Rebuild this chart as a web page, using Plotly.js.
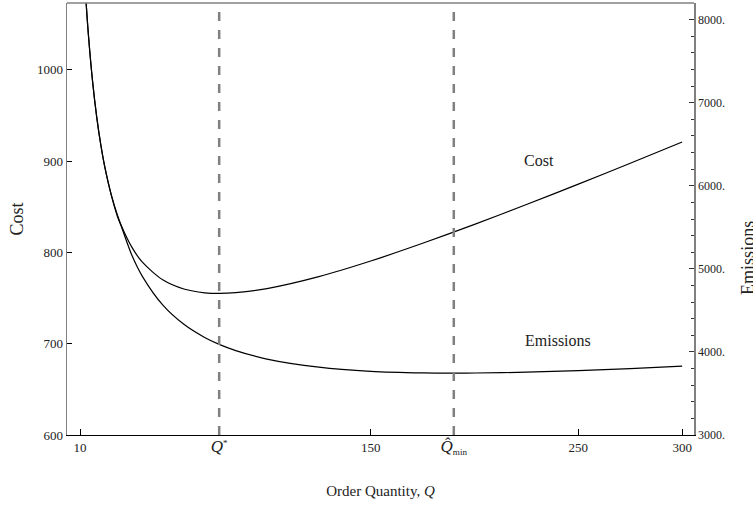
<!DOCTYPE html>
<html>
<head>
<meta charset="utf-8">
<script src="https://cdn.plot.ly/plotly-3.0.1.min.js"></script>
<style>html,body{margin:0;padding:0;background:#fff;}#chart{width:753px;height:508px;}</style>
</head>
<body>
<div id="chart"></div>
<script>
// Order quantity samples
const qCost = [12, 13, 14, 16, 18, 20, 22, 25, 28, 30, 35, 40, 50, 60, 70, 77, 85, 100, 125, 150, 175, 200, 225, 250, 275, 300];
const costValues = [1107, 1070, 1038.5, 987.6, 948.4, 917.5, 892.5, 863.2, 840.8, 828.6, 805.4, 789.2, 769.6, 759.8, 755.7, 755, 755.8, 760.3, 773.4, 790.5, 809.9, 830.6, 852.4, 874.7, 897.6, 920.8];
const qEmis = [12, 13, 14, 16, 18, 20, 22, 25, 28, 30, 35, 40, 50, 60, 70, 77, 85, 100, 125, 150, 175, 190, 200, 225, 250, 275, 300];
const emisValues = [8650, 8170, 7820, 7260, 6830, 6490, 6215, 5890, 5630, 5500, 5160, 4910, 4560, 4332, 4174, 4091, 4016, 3914, 3816, 3767, 3748, 3745, 3746, 3756, 3775, 3799, 3829];
// Marked quantities
const qStar = 77;
const qMin = 190;
// Tick labels
const xTickVals = [10, qStar, 150, qMin, 250, 300];
const xTickText = ['10', '<span style="font-size:17px"><i>Q</i></span><sup>*</sup>', '150', '<span style="font-size:17px"><i>Q̂</i></span><sub>min</sub>', '250', '300'];
const y1TickVals = [600, 700, 800, 900, 1000];
const y2TickVals = [3000, 4000, 5000, 6000, 7000, 8000];
const y2TickText = ['3000.', '4000.', '5000.', '6000.', '7000.', '8000.'];

const serif = '"Liberation Serif", "Times New Roman", serif';

const traces = [
  {x: qCost, y: costValues, type: 'scatter', mode: 'lines', line: {color: '#000', width: 1.2, shape: 'spline', smoothing: 0.8}, yaxis: 'y', hoverinfo: 'skip'},
  {x: qEmis, y: emisValues, type: 'scatter', mode: 'lines', line: {color: '#000', width: 1.2, shape: 'spline', smoothing: 0.8}, yaxis: 'y2', hoverinfo: 'skip'}
];

const layout = {
  width: 753, height: 508,
  margin: {l: 67, r: 59, t: 3, b: 73},
  paper_bgcolor: '#fff', plot_bgcolor: '#fff',
  showlegend: false,
  font: {family: serif, color: '#222', size: 12},
  xaxis: {
    range: [3.7, 305.7], tickvals: xTickVals, ticktext: xTickText,
    ticks: 'inside', ticklen: 6, tickcolor: '#000', tickwidth: 1,
    showline: true, linecolor: '#000', linewidth: 1.3,
    showgrid: false, zeroline: false,
    tickfont: {family: serif, size: 13, color: '#222'},
    title: {text: 'Order Quantity, <i>Q</i>', font: {family: serif, size: 15, color: '#222'}, standoff: 30}
  },
  yaxis: {
    range: [600, 1073], tickvals: y1TickVals,
    ticks: 'inside', ticklen: 5, tickcolor: '#000', tickwidth: 1,
    showline: true, linecolor: '#808080', linewidth: 1.5,
    showgrid: false, zeroline: false,
    tickfont: {family: serif, size: 13, color: '#222'},
    title: {text: 'Cost', font: {family: serif, size: 18, color: '#222'}, standoff: 8}
  },
  yaxis2: {
    overlaying: 'y', side: 'right',
    range: [3000, 8200], tickvals: y2TickVals, ticktext: y2TickText,
    ticks: 'inside', ticklen: 5, tickcolor: '#333', tickwidth: 1,
    minor: {dtick: 200, ticks: 'inside', ticklen: 3, tickcolor: '#333', showgrid: false},
    showline: true, linecolor: '#808080', linewidth: 1.5,
    showgrid: false, zeroline: false,
    tickfont: {family: serif, size: 12, color: '#222'}
  },
  shapes: [
    {type: 'line', xref: 'x', yref: 'paper', x0: qStar, x1: qStar, y0: 0, y1: 1, line: {color: '#808080', width: 2.5, dash: 'dash'}},
    {type: 'line', xref: 'x', yref: 'paper', x0: qMin, x1: qMin, y0: 0, y1: 1, line: {color: '#808080', width: 2.5, dash: 'dash'}},
    {type: 'line', xref: 'paper', yref: 'paper', x0: 0, x1: 1, y0: 1, y1: 1, line: {color: '#808080', width: 1.5}}
  ],
  annotations: [
    {x: 231, y: 901, xref: 'x', yref: 'y', text: 'Cost', showarrow: false, font: {family: serif, size: 16, color: '#222'}},
    {x: 240, y: 4142, xref: 'x', yref: 'y2', text: 'Emissions', showarrow: false, font: {family: serif, size: 16, color: '#222'}},
    {x: 1, y: 0.41, xref: 'paper', yref: 'paper', xshift: 54, text: 'Emissions', textangle: -90, showarrow: false, xanchor: 'center', font: {family: serif, size: 18, color: '#222'}}
  ]
};

Plotly.newPlot('chart', traces, layout, {displayModeBar: false, staticPlot: true});
</script>
</body>
</html>
